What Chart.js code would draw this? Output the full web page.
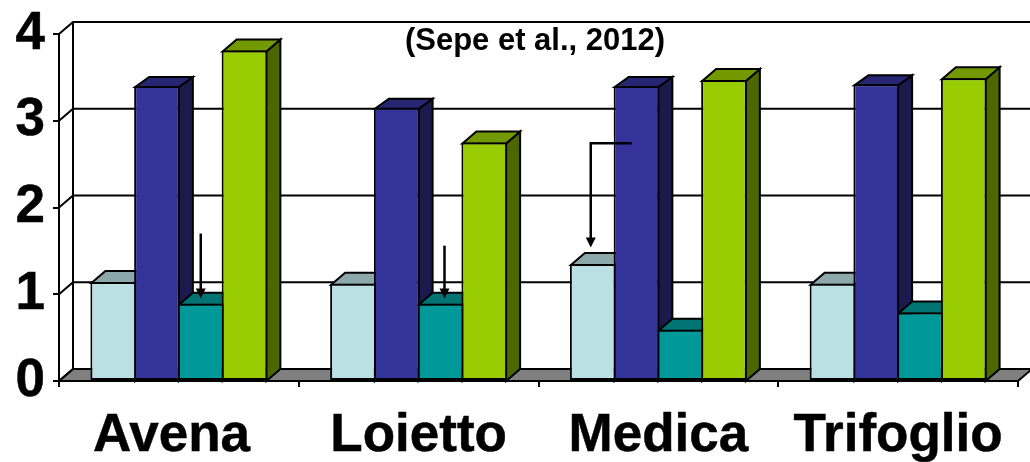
<!DOCTYPE html>
<html><head><meta charset="utf-8">
<style>html,body{margin:0;padding:0;background:#fff}canvas{display:block}</style>
<script src="https://cdn.jsdelivr.net/npm/chart.js@4"></script>
</head><body><canvas id="c" width="1030" height="462"></canvas>
<script>
const categories = ['Avena', 'Loietto', 'Medica', 'Trifoglio'];
const seriesA = [1.14, 1.12, 1.35, 1.12];
const seriesB = [3.40, 3.15, 3.40, 3.42];
const seriesC = [0.89, 0.89, 0.59, 0.79];
const seriesD = [3.81, 2.75, 3.47, 3.49];
const yTicks = [0, 1, 2, 3, 4];
const noteText = '(Sepe et al., 2012)';

const DX = 14, DY = 12;
function quad(ctx, pts, fill) {
  ctx.beginPath();
  pts.forEach((p, i) => i ? ctx.lineTo(p[0], p[1]) : ctx.moveTo(p[0], p[1]));
  ctx.closePath();
  if (fill) { ctx.fillStyle = fill; ctx.fill(); }
  ctx.stroke();
}
function line(ctx, pts) {
  ctx.beginPath();
  pts.forEach((p, i) => i ? ctx.lineTo(p[0], p[1]) : ctx.moveTo(p[0], p[1]));
  ctx.stroke();
}
function arrowHead(ctx, x, y) {
  ctx.fillStyle = '#000';
  ctx.beginPath();
  ctx.moveTo(x - 5, y - 10); ctx.lineTo(x + 5, y - 10); ctx.lineTo(x, y);
  ctx.closePath(); ctx.fill();
}
const bars3d = {
  id: 'bars3d',
  beforeDatasetsDraw(chart) {
    const { ctx, scales: { x, y } } = chart;
    const l = x.left, r = x.right, y0 = y.getPixelForValue(0);
    ctx.save();
    ctx.strokeStyle = '#000';
    ctx.lineWidth = 2;
    ctx.lineJoin = 'miter';
    quad(ctx, [[l, y0], [l + DX, y0 - DY], [r + DX, y0 - DY], [r, y0]], '#808080');
    yTicks.forEach(v => {
      const py = y.getPixelForValue(v);
      line(ctx, [[l, py], [l + DX, py - DY], [r + DX, py - DY]]);
    });
    line(ctx, [[l + DX, y.getPixelForValue(4) - DY], [l + DX, y0 - DY]]);
    categories.forEach((_, i) => {
      chart.data.datasets.forEach((ds, d) => {
        const el = chart.getDatasetMeta(d).data[i];
        const x0 = el.x - el.width / 2 + 1, x1 = el.x + el.width / 2 - 1, top = el.y + 1;
        const dy = ds.depthY;
        quad(ctx, [[x1, top], [x1 + DX, top - dy], [x1 + DX, y0 - DY], [x1, y0]], ds.sideColor);
        quad(ctx, [[x0, top], [x0 + DX, top - dy], [x1 + DX, top - dy], [x1, top]], ds.topColor);
      });
    });
    ctx.restore();
  },
  afterDatasetsDraw(chart) {
    const { ctx, scales: { y } } = chart;
    const barMid = (d, i) => chart.getDatasetMeta(d).data[i].x;
    ctx.save();
    ctx.strokeStyle = '#000';
    ctx.lineWidth = 2.5;
    const a = barMid(2, 0), b = barMid(2, 1) + 4, c = barMid(0, 2);
    line(ctx, [[a, y.getPixelForValue(1.70)], [a, y.getPixelForValue(1.0)]]);
    arrowHead(ctx, a, y.getPixelForValue(0.95));
    line(ctx, [[b, y.getPixelForValue(1.56)], [b, y.getPixelForValue(1.0)]]);
    arrowHead(ctx, b, y.getPixelForValue(0.95));
    line(ctx, [[c + 39, y.getPixelForValue(2.74)], [c - 2, y.getPixelForValue(2.74)], [c - 2, y.getPixelForValue(1.6)]]);
    arrowHead(ctx, c - 2, y.getPixelForValue(1.54));
    ctx.fillStyle = '#000';
    ctx.font = 'bold 31px "Liberation Sans"';
    ctx.textAlign = 'center';
    ctx.textBaseline = 'middle';
    ctx.fillText(noteText, 535, 41);
    ctx.restore();
  }
};
const mk = (label, data, fill, top, side, depthY) => ({
  label, data, backgroundColor: fill, borderColor: '#000', borderWidth: 2, borderSkipped: false,
  topColor: top, sideColor: side, depthY,
  barPercentage: 1.045, categoryPercentage: 0.73
});
new Chart(document.getElementById('c'), {
  type: 'bar',
  data: {
    labels: categories,
    datasets: [
      mk('A', seriesA, '#BBE0E3', '#8CA8AA', '#5E7072', 12),
      mk('B', seriesB, '#333399', '#262673', '#1A1A4D', 10),
      mk('C', seriesC, '#009999', '#007373', '#004D4D', 12),
      mk('D', seriesD, '#99CC00', '#739900', '#4D6600', 12)
    ]
  },
  plugins: [bars3d],
  options: {
    responsive: false, animation: false,
    layout: { padding: { top: 34, right: 12, left: 0, bottom: 0 } },
    plugins: { legend: { display: false }, tooltip: { enabled: false }, title: { display: false } },
    scales: {
      x: {
        afterFit(s) { s.height = 81; s.paddingLeft = 0; s.paddingRight = 0; },
        grid: { drawOnChartArea: false, drawTicks: true, tickLength: 6, color: '#000', lineWidth: 2 },
        border: { display: true, color: '#000', width: 2 },
        ticks: { maxRotation: 0, autoSkip: false, color: '#000', padding: 18,
          textStrokeColor: '#000', textStrokeWidth: 0.5,
          font: { family: '"Liberation Sans"', weight: 'bold', size: 53 },
          callback(v, i) { return i === 0 ? categories[i] + ' ' : categories[i]; } }
      },
      y: {
        min: 0, max: 4,
        afterFit(s) { s.width = 59; s.paddingTop = 0; s.paddingBottom = 0; },
        grid: { drawOnChartArea: false, drawTicks: true, tickLength: 6, color: '#000', lineWidth: 2 },
        border: { display: true, color: '#000', width: 2 },
        ticks: { stepSize: 1, color: '#000', padding: 8,
          textStrokeColor: '#000', textStrokeWidth: 0.5,
          font: { family: '"Liberation Sans"', weight: 'bold', size: 53 } }
      }
    }
  }
});
</script></body></html>
